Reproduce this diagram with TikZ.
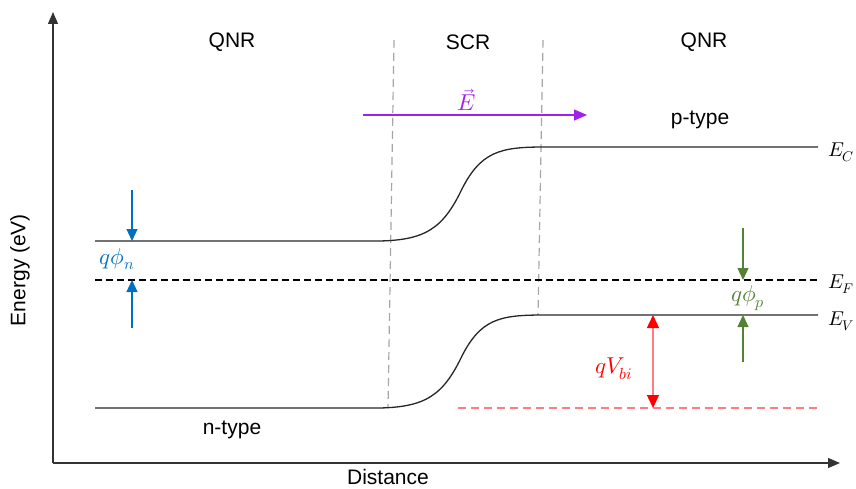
\documentclass[tikz,border=0pt]{standalone}
\usepackage{fontspec}
\setmainfont{Liberation Sans}
\usepackage{unicode-math}
\setmathfont{Latin Modern Math}
\usetikzlibrary{arrows.meta}
\definecolor{qblue}{HTML}{0070C0}
\definecolor{qgreen}{HTML}{548235}
\definecolor{qred}{HTML}{FF0000}
\definecolor{qlred}{HTML}{FF7C80}
\definecolor{qpurple}{HTML}{A020F0}
\tikzset{
  lbl/.style={font=\fontsize{21}{24}\selectfont, inner sep=0pt},
  mlbl/.style={font=\fontsize{23}{26}\selectfont, inner sep=0pt},
  elbl/.style={font=\fontsize{20}{24}\selectfont, inner sep=0pt, anchor=west},
  band/.style={line width=1.3pt, black!85},
  tri/.style={-{Triangle[length=12pt,width=11pt]}},
  redtip/.style={{Triangle[length=13pt,width=12pt,color=qred]}-{Triangle[length=13pt,width=12pt,color=qred]}},
  scrline/.style={gray!70, dash pattern=on 8pt off 5pt, line width=1.2pt},
}
\begin{document}
\begin{tikzpicture}[x=1pt,y=-1pt]
\useasboundingbox (0,0) rectangle (856,489);
% axes
\coordinate (O) at (53,463);
\coordinate (Ytop) at (53,12);
\coordinate (Xend) at (840,463);
\draw[line width=1.2pt, black!80, -{Triangle[length=12pt,width=10pt]}] (O) -- (Ytop);
\draw[line width=1.2pt, black!80, -{Triangle[length=12pt,width=10pt]}] (O) -- (Xend);
\node[lbl, rotate=90] (ylab) at (20,270) {Energy (eV)};
\node[lbl] (xlab) at (388,477) {Distance};
% region labels
\node[lbl] (qnr1) at (232,42) {QNR};
\node[lbl] (scr) at (468,42) {SCR};
\node[lbl] (qnr2) at (704,42) {QNR};
% SCR borders
\coordinate (s1t) at (394,40);
\coordinate (s1b) at (388,408);
\coordinate (s2t) at (543,40);
\coordinate (s2b) at (538,315);
\draw[scrline] (s1t) -- (s1b);
\draw[scrline] (s2t) -- (s2b);
% E field
\coordinate (ea) at (363,115);
\coordinate (eb) at (587,115);
\draw[qpurple, line width=1.3pt, -{Triangle[length=13pt,width=11pt]}] (ea) -- (eb);
\node[mlbl, text=qpurple] (elab) at (467,100) {$\vec{E}$};
% conduction band
\coordinate (c0) at (95,241);
\coordinate (c1) at (365,241);
\coordinate (c2) at (545,147);
\coordinate (c3) at (818,147);
\draw[band] (c0) -- (c1) .. controls (420,242) and (440,233) .. (460,193) .. controls (480,151) and (500,147) .. (c2) -- (c3);
% valence band
\coordinate (v0) at (95,408);
\coordinate (v1) at (365,408);
\coordinate (v2) at (545,315);
\coordinate (v3) at (818,315);
\draw[band] (v0) -- (v1) .. controls (420,409) and (440,400) .. (460,360) .. controls (480,318) and (500,315) .. (v2) -- (v3);
% Fermi level
\coordinate (f0) at (95,280);
\coordinate (f1) at (818,280);
\draw[black, line width=1.2pt, dash pattern=on 7pt off 4pt] (f0) -- (f1);
% labels E
\node[elbl] (EC) at (828,152) {$E_C$};
\node[elbl] (EF) at (828,284) {$E_F$};
\node[elbl] (EV) at (828,321) {$E_V$};
\node[lbl] (ptype) at (700,120) {p-type};
\node[lbl] (ntype) at (232,430) {n-type};
% red qVbi
\coordinate (r0) at (458,408);
\coordinate (r1) at (818,408);
\draw[qlred, line width=1.3pt, dash pattern=on 8pt off 5pt] (r0) -- (r1);
\coordinate (rt) at (653,315);
\coordinate (rb) at (653,408);
\draw[qlred, line width=1.5pt, redtip] (rt) -- (rb);
\node[mlbl, text=qred] (vbi) at (614,369) {$qV_{bi}$};
% blue phi_n
\coordinate (bn1) at (132,190);
\coordinate (bn2) at (132,241);
\coordinate (bn3) at (132,328);
\coordinate (bn4) at (132,280);
\draw[qblue, line width=1.2pt, tri] (bn1) -- (bn2);
\draw[qblue, line width=1.2pt, tri] (bn3) -- (bn4);
\node[mlbl, text=qblue] (phin) at (117,259) {$q\phi_n$};
% green phi_p
\coordinate (gp1) at (743,228);
\coordinate (gp2) at (743,280);
\coordinate (gp3) at (743,362);
\coordinate (gp4) at (743,315);
\draw[qgreen, line width=1.2pt, tri] (gp1) -- (gp2);
\draw[qgreen, line width=1.2pt, tri] (gp3) -- (gp4);
\node[mlbl, text=qgreen] (phip) at (748,298) {$q\phi_p$};
\end{tikzpicture}
\end{document}
